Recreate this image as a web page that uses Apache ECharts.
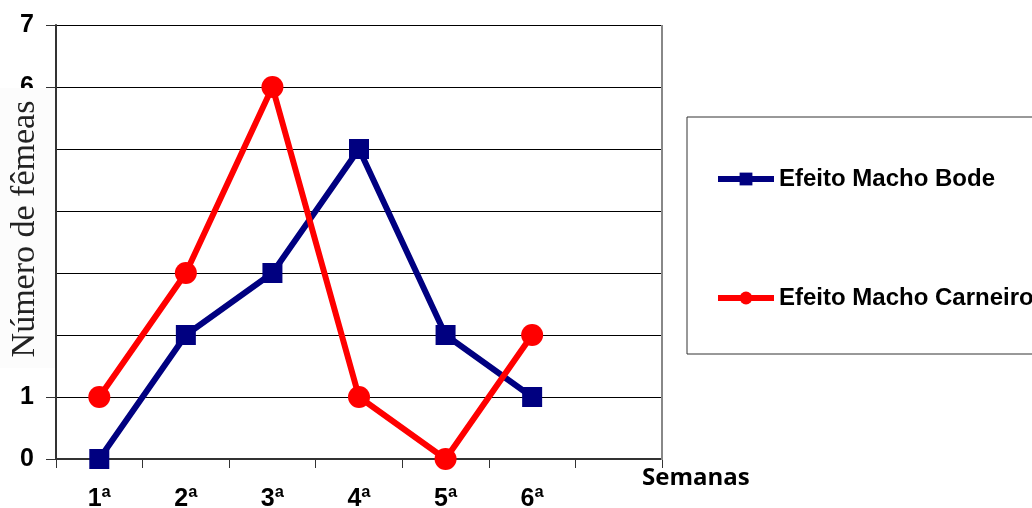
<!DOCTYPE html>
<html><head><meta charset="utf-8">
<script src="https://cdn.jsdelivr.net/npm/echarts@6/dist/echarts.min.js"></script>
<style>html,body{margin:0;padding:0;background:#fff}#c{width:1032px;height:508px}</style>
</head><body><div id="c"></div>
<script>
var categories = ['1ª','2ª','3ª','4ª','5ª','6ª',''];
var bode = [0,2,3,5,2,1];
var carneiro = [1,3,6,1,0,2];
var seriesNames = ['Efeito Macho Bode','Efeito Macho Carneiro'];
var yTitle = 'Número de fêmeas';
var xTitle = 'Semanas';

var chart = echarts.init(document.getElementById('c'));
chart.setOption({
  animation:false,
  backgroundColor:'#fff',
  grid:{left:56,right:370,top:25,bottom:49,containLabel:false,outerBoundsMode:'none'},
  legend:{
    orient:'vertical', left:687, top:117,
    padding:[50,80,44,28], itemGap:95,
    itemWidth:56, itemHeight:16,
    borderColor:'#333', borderWidth:1,
    lineStyle:{width:6},
    textStyle:{fontFamily:'Liberation Sans',fontWeight:'bold',fontSize:24,color:'#000'},
    data:seriesNames
  },
  xAxis:{
    type:'category', data:categories, boundaryGap:true,
    axisLine:{lineStyle:{color:'#333',width:2}},
    axisTick:{show:true,length:9,lineStyle:{color:'#333'}},
    axisLabel:{margin:28,fontFamily:'Liberation Sans',fontWeight:'bold',fontSize:25,color:'#000'},
    name:xTitle, nameLocation:'end', nameGap:-20,
    nameTextStyle:{fontFamily:'Open Sans',fontWeight:'bold',fontSize:24,color:'#000',align:'left',verticalAlign:'top',padding:[7,0,0,0]}
  },
  yAxis:{
    type:'value', min:0, max:7, interval:1,
    axisLine:{show:true,lineStyle:{color:'#333',width:2}},
    axisTick:{show:true,length:10,lineStyle:{color:'#333'}},
    axisLabel:{margin:22,fontFamily:'Liberation Sans',fontWeight:'bold',fontSize:25,color:'#000'},
    splitLine:{lineStyle:{color:'#000',width:1}}
  },
  graphic:[
    {type:'line',shape:{x1:662,y1:25,x2:662,y2:460},style:{stroke:'#888',lineWidth:2},z:10},
    {type:'rect',shape:{x:0,y:88,width:55,height:280},style:{fill:'#fcfcfc'},z:100},
    {type:'text',x:25,y:229,rotation:Math.PI/2,z:101,
     style:{text:yTitle,font:'34px "Liberation Serif"',fill:'#222',textAlign:'center',textVerticalAlign:'middle'}}
  ],
  series:[
    {name:seriesNames[0],type:'line',data:bode,color:'#000080',symbol:'rect',symbolSize:20,
     lineStyle:{width:6,color:'#000080'},itemStyle:{color:'#000080'},z:3},
    {name:seriesNames[1],type:'line',data:carneiro,color:'#ff0000',symbol:'circle',symbolSize:22,
     lineStyle:{width:6,color:'#ff0000'},itemStyle:{color:'#ff0000'},z:4}
  ]
});
</script></body></html>
